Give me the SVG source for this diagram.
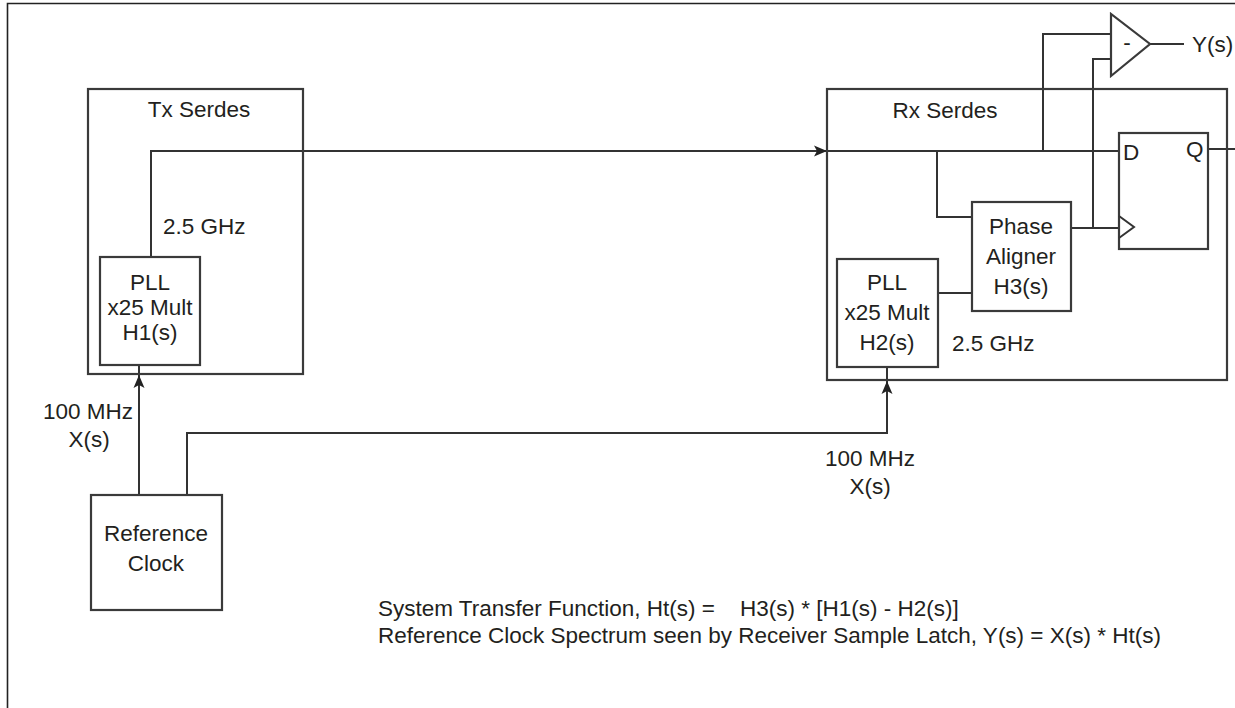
<svg xmlns="http://www.w3.org/2000/svg" width="1235" height="708" viewBox="0 0 1235 708">
<style>
.box{fill:none;stroke:#3a3a3a;stroke-width:2.2}
.w{fill:none;stroke:#333;stroke-width:2}
.t{font-family:"Liberation Sans",Arial,sans-serif;font-size:22.5px;fill:#231f20}
.c{text-anchor:middle}
</style>
<defs>
<marker id="ah" markerUnits="userSpaceOnUse" markerWidth="16" markerHeight="14" viewBox="-14 -7 16 14" refX="0" refY="0" orient="auto">
<path d="M0,0 L-13,-5.5 L-10,0 L-13,5.5 Z" fill="#222"/>
</marker>
</defs>
<rect width="1235" height="708" fill="#fff"/>
<path d="M7.5,708 V3.5 H1235" fill="none" stroke="#222" stroke-width="1.6"/>

<g id="connectors">
<path class="w" d="M151,257 V151 H827" marker-end="url(#ah)"/>
<path class="w" d="M827,151 H1119"/>
<path class="w" d="M937,151 V217 H972"/>
<path class="w" d="M1043,151 V34 H1111"/>
<path class="w" d="M1071,228 H1119"/>
<path class="w" d="M1093,228 V59 H1111"/>
<path class="w" d="M938,293 H972"/>
<path class="w" d="M1150,44 H1184"/>
<path class="w" d="M1208,149 H1235"/>
<path class="w" d="M139,495 V375" marker-end="url(#ah)"/>
<path class="w" d="M139,375 V365"/>
<path class="w" d="M187,495 V433 H887 V381" marker-end="url(#ah)"/>
<path class="w" d="M887,381 V367"/>
</g>

<g id="tx-serdes">
<rect class="box" x="88" y="89" width="215" height="285"/>
<text class="t c" x="199" y="117">Tx Serdes</text>
<text class="t" x="163" y="234">2.5 GHz</text>
</g>

<g id="tx-pll">
<rect class="box" x="100" y="257" width="100" height="108"/>
<text class="t c" x="150" y="290">PLL</text>
<text class="t c" x="150" y="315">x25 Mult</text>
<text class="t c" x="150" y="340">H1(s)</text>
</g>

<g id="rx-serdes">
<rect class="box" x="827" y="89" width="400" height="291"/>
<text class="t c" x="945" y="118">Rx Serdes</text>
<text class="t" x="952" y="351">2.5 GHz</text>
</g>

<g id="rx-pll">
<rect class="box" x="837" y="259" width="101" height="108"/>
<text class="t c" x="887" y="290">PLL</text>
<text class="t c" x="887" y="320">x25 Mult</text>
<text class="t c" x="887" y="350">H2(s)</text>
</g>

<g id="phase-aligner">
<rect class="box" x="972" y="202" width="99" height="109"/>
<text class="t c" x="1021" y="234">Phase</text>
<text class="t c" x="1021" y="264">Aligner</text>
<text class="t c" x="1021" y="294">H3(s)</text>
</g>

<g id="flip-flop">
<rect class="box" x="1119" y="133" width="89" height="116"/>
<polyline class="w" points="1119,216 1134,227 1119,238"/>
<text class="t" x="1123" y="160">D</text>
<text class="t" x="1186" y="157">Q</text>
</g>

<g id="comparator">
<polygon class="box" points="1111,14 1111,76 1150,44"/>
<text class="t c" x="1127" y="50">-</text>
<text class="t" x="1192" y="52">Y(s)</text>
</g>

<g id="reference-clock">
<rect class="box" x="91" y="495" width="131" height="115"/>
<text class="t c" x="156" y="541">Reference</text>
<text class="t c" x="156" y="571">Clock</text>
</g>

<g id="labels">
<text class="t" x="133" y="419" text-anchor="end">100 MHz</text>
<text class="t c" x="89" y="447">X(s)</text>
<text class="t c" x="870" y="466">100 MHz</text>
<text class="t c" x="870" y="494">X(s)</text>
<text class="t" x="378" y="616">System Transfer Function, Ht(s) =</text>
<text class="t" x="740" y="616">H3(s) * [H1(s) - H2(s)]</text>
<text class="t" x="378" y="643">Reference Clock Spectrum seen by Receiver Sample Latch, Y(s) = X(s) * Ht(s)</text>
</g>
</svg>
